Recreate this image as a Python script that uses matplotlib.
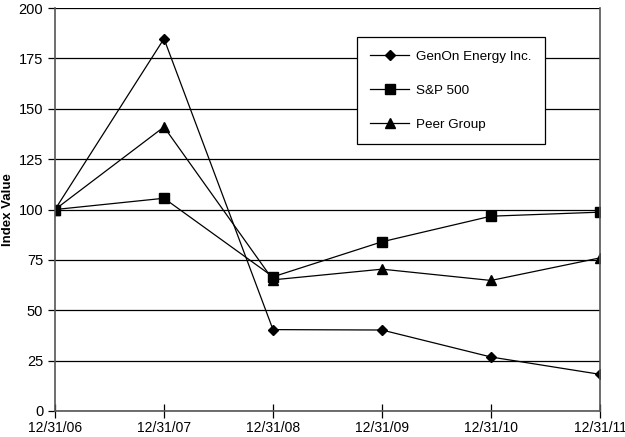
import matplotlib.pyplot as plt

plt.rcParams["font.family"] = ["Liberation Sans", "DejaVu Sans"]

dates = ["12/31/06", "12/31/07", "12/31/08", "12/31/09", "12/31/10", "12/31/11"]
genon = [100, 184.8, 40.4, 40.2, 26.8, 18.2]
sp500 = [100, 105.6, 66.6, 84.0, 96.7, 98.7]
peer = [100, 141.0, 65.1, 70.4, 64.8, 76.0]

fig = plt.figure(figsize=(6.25, 4.37), dpi=100)
ax = fig.add_axes([0.088, 0.0595, 0.872, 0.922])

x = range(len(dates))
ax.plot(x, genon, color="black", lw=0.9, marker="D", ms=5.5, label="GenOn Energy Inc.")
ax.plot(x, sp500, color="black", lw=0.9, marker="s", ms=7, label="S&P 500")
ax.plot(x, peer, color="black", lw=0.9, marker="^", ms=7, label="Peer Group")

ax.set_xlim(0, len(dates) - 1)
ax.set_ylim(0, 200)
ax.set_yticks(range(0, 201, 25))
ax.set_xticks(list(x))
ax.set_xticklabels(dates)
ax.yaxis.grid(True, color="black", lw=0.9)
ax.set_axisbelow(True)
ax.tick_params(axis="y", direction="out", length=5, labelsize=10.5, width=0.9)
ax.tick_params(axis="x", direction="inout", length=10, labelsize=10, width=0.9, pad=2)
for side in ["left", "bottom", "right"]:
    ax.spines[side].set_color("#555555")
    ax.spines[side].set_linewidth(1.2)
ax.spines["top"].set_visible(False)
ax.set_ylabel("Index Value", fontsize=9.5, fontweight="bold", labelpad=3)

leg = ax.legend(loc="upper left", bbox_to_anchor=(0.554, 0.928), fontsize=9.7,
                frameon=True, fancybox=False, edgecolor="black", framealpha=1,
                handlelength=2.9, borderpad=1.0, labelspacing=1.6, handletextpad=0.5,
                borderaxespad=0)
leg.get_frame().set_linewidth(0.9)

fig.savefig("out.png", dpi=100)
